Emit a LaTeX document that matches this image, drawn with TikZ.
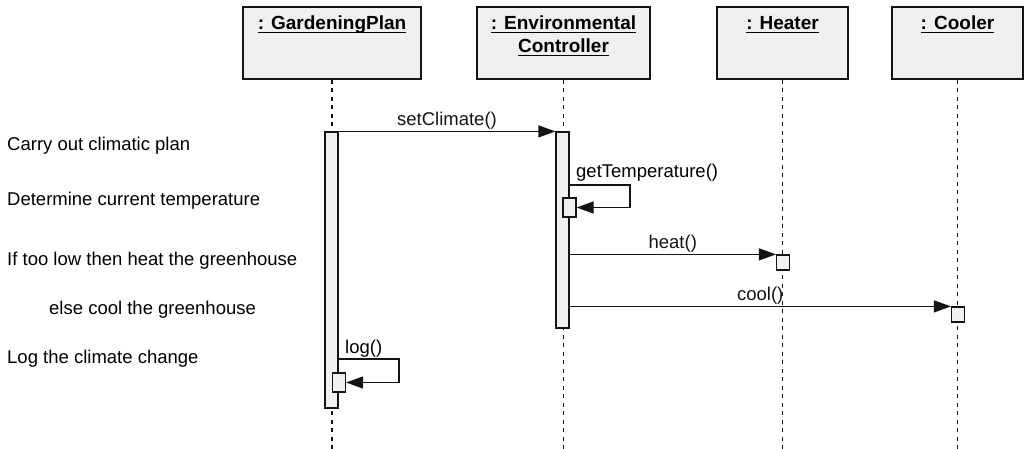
\documentclass[tikz,border=0pt]{standalone}
\usepackage{fontspec}
\setmainfont{Liberation Sans}
\usetikzlibrary{arrows.meta, positioning}
\definecolor{UMLGray}{RGB}{240,240,240}
\definecolor{UMLDark}{RGB}{20,20,20}
\newcommand{\ulname}[1]{\setbox0=\hbox{#1}\rlap{\rule[-3.3pt]{\wd0}{1.3pt}}\box0}

\begin{document}
\begin{tikzpicture}[x=1pt, y=-1pt,
    obj/.style={rectangle, draw=UMLDark, line width=1.3pt, fill=UMLGray,
                minimum height=72pt, inner sep=0pt},
    objname/.style={anchor=base, align=center, inner sep=0pt,
                    font=\fontsize{19}{23}\selectfont\bfseries},
    bar/.style={rectangle, draw=UMLDark, line width=1.2pt, fill=UMLGray,
                minimum width=13pt, inner sep=0pt},
    act/.style={bar, minimum height=19pt},
    lifeline/.style={UMLDark, line width=1.2pt, dash pattern=on 4pt off 4.5pt},
    msg/.style={-{Triangle[length=17pt, width=12pt]}, UMLDark, line width=1.2pt},
    msglbl/.style={anchor=base, inner sep=0pt, font=\fontsize{18.5}{22}\selectfont},
    note/.style={anchor=base west, inner sep=0pt, font=\fontsize{18.5}{22}\selectfont}
  ]
  \useasboundingbox (0,0) rectangle (1024,449);
  \coordinate (bottom) at (0,449);

  % Objects
  \node[obj, minimum width=178pt] (gp)     at (332,43)   {};
  \node[obj, minimum width=173pt] (ec)     at (563.5,43) {};
  \node[obj, minimum width=131pt] (heater) at (782.5,43) {};
  \node[obj, minimum width=131pt] (cooler) at (957.5,43) {};

  \node[objname] (gpname)     at (332,30)   {\ulname{: GardeningPlan}};
  \node[objname] (ecname)     at (563.5,53) {\ulname{: Environmental}\\\ulname{Controller}};
  \node[objname] (heatername) at (782.5,30) {\ulname{: Heater}};
  \node[objname] (coolername) at (957.5,30) {\ulname{: Cooler}};

  % Lifelines
  \foreach \o in {gp,ec,heater,cooler} {
    \draw[lifeline] (\o.south) -- (\o.south |- bottom);
  }

  % Activations
  \node[bar, minimum height=276pt] (gpbar) at (331.5,270) {};
  \node[bar, minimum height=196pt] (ecbar) at (562.5,230) {};
  \node[act] (tempact) at (569.5,207.5) {};
  \node[act, minimum height=15pt] (heatact) at (783,262.5) {};
  \node[act, minimum height=15pt] (coolact) at (958,314.5) {};
  \node[act] (logact) at (339,382.5) {};

  % Messages
  \draw[msg] (gpbar.north east) -- node[msglbl, yshift=6pt] {setClimate()} (ecbar.north west);
  \draw[msg] (ecbar.east |- 0,185) -- (630,185) |- (tempact.east);
  \node[msglbl, anchor=base west] (templbl) at (576,178) {getTemperature()};
  \draw[msg] (ecbar.east |- heatact.north) -- node[msglbl, yshift=6pt] {heat()} (heatact.north west);
  \draw[msg] (ecbar.east |- coolact.north) -- node[msglbl, yshift=6pt] {cool()} (coolact.north west);
  \draw[msg] (gpbar.east |- 0,359) -- (399,359) |- (logact.east);
  \node[msglbl, anchor=base west] (loglbl) at (345,353) {log()};

  % Notes
  \node[note] (plan)  at (7,151)  {Carry out climatic plan};
  \node[note] (temp)  at (7,205)  {Determine current temperature};
  \node[note] (heat)  at (7,265)  {If too low then heat the greenhouse};
  \node[note] (cool)  at (49,314) {else cool the greenhouse};
  \node[note] (log)   at (7,363)  {Log the climate change};
\end{tikzpicture}
\end{document}
